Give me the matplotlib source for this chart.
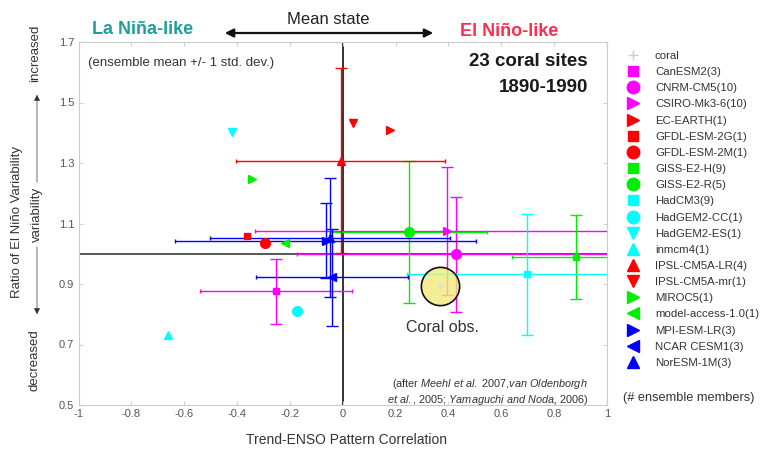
import matplotlib
matplotlib.use('Agg')
import matplotlib.pyplot as plt
from matplotlib.lines import Line2D

plt.rcParams['font.family'] = ['Liberation Sans', 'DejaVu Sans']
plt.rcParams['mathtext.fontset'] = 'custom'
plt.rcParams['mathtext.rm'] = 'Liberation Sans'
plt.rcParams['mathtext.it'] = 'Liberation Sans:italic'
plt.rcParams['axes.unicode_minus'] = False

# ---------------- data ----------------
models = ['CanESM2', 'CNRM-CM5', 'CSIRO-Mk3-6', 'EC-EARTH', 'GFDL-ESM-2G', 'GFDL-ESM-2M',
          'GISS-E2-H', 'GISS-E2-R', 'HadCM3', 'HadGEM2-CC', 'HadGEM2-ES', 'inmcm4',
          'IPSL-CM5A-LR', 'IPSL-CM5A-mr', 'MIROC5', 'model-access-1.0', 'MPI-ESM-LR',
          'NCAR CESM1', 'NorESM-1M']
members = [3, 10, 10, 1, 1, 1, 9, 5, 9, 1, 1, 1, 4, 1, 1, 1, 3, 3, 3]
x_mean = [-0.252, 0.43, 0.395, 0.18, -0.361, -0.295, 0.883, 0.25, 0.696, -0.172, -0.42, -0.662,
          -0.008, 0.039, -0.342, -0.22, -0.065, -0.04, -0.05]
y_mean = [0.876, 0.998, 1.075, 1.409, 1.059, 1.037, 0.989, 1.073, 0.932, 0.812, 1.403, 0.731,
          1.308, 1.431, 1.247, 1.035, 1.043, 0.922, 1.053]
x_std = [0.287, 0.603, 0.728, 0, 0, 0, 0.242, 0.297, 0.452, 0, 0, 0,
         0.395, 0, 0, 0, 0.568, 0.287, 0.454]
y_std = [0.108, 0.189, 0.211, 0, 0, 0, 0.139, 0.235, 0.2, 0, 0, 0,
         0.305, 0, 0, 0, 0.124, 0.161, 0.197]
colors = ['#ff00ff', '#ff00ff', '#ff00ff', '#ff0000', '#ff0000', '#ff0000',
          '#00ee00', '#00ee00', '#00ffff', '#00ffff', '#00ffff', '#00ffff',
          '#ff0000', '#ff0000', '#00ee00', '#00ee00', '#0000ff', '#0000ff', '#0000ff']
markers = ['s', 'o', '>', '>', 's', 'o', 's', 'o', 's', 'o', 'v', '^',
           '^', 'v', '>', '<', '>', '<', '^']
coral_x = [0.367]
coral_y = [0.893]
x_ticks = [-1, -0.8, -0.6, -0.4, -0.2, 0, 0.2, 0.4, 0.6, 0.8, 1]
x_ticklabels = ['-1', '-0.8', '-0.6', '-0.4', '-0.2', '0', '0.2', '0.4', '0.6', '0.8', '1']
y_ticks = [0.5, 0.7, 0.9, 1.1, 1.3, 1.5, 1.7]
y_ticklabels = ['0.5', '0.7', '0.9', '1.1', '1.3', '1.5', '1.7']

# ---------------- layout ----------------
W, H = 760, 449
fig = plt.figure(figsize=(W / 100, H / 100), dpi=100)


def fx(px):
    return px / W


def fy(py):
    return 1 - py / H


ax = fig.add_axes([fx(78.5), fy(405), fx(607) - fx(78.5), fy(42) - fy(405)])
ax.set_xlim(-1, 1)
ax.set_ylim(0.5, 1.7)
ax.set_xticks(x_ticks)
ax.set_xticklabels(x_ticklabels)
ax.set_yticks(y_ticks)
ax.set_yticklabels(y_ticklabels)
ax.tick_params(direction='in', length=3, color='#d0d0d0', labelcolor='#555555',
               labelsize=8, top=True, right=True, pad=3)
for s in ax.spines.values():
    s.set_color('#cccccc')
    s.set_linewidth(0.8)

ax.axhline(1.0, color='#555555', lw=1.4, zorder=1)
ax.axvline(0.0, color='#333333', lw=1.4, zorder=1)


def msize(m):
    return {'s': 5, 'o': 7}.get(m, 6)


for i in range(len(models)):
    c = colors[i]
    if y_std[i] > 0:
        ax.errorbar(x_mean[i], y_mean[i], yerr=y_std[i], fmt='none', ecolor=c,
                    elinewidth=1.0, capsize=4.5, capthick=1.0, zorder=3)
        ax.errorbar(x_mean[i], y_mean[i], xerr=x_std[i], fmt='none', ecolor=c,
                    elinewidth=1.0, capsize=1.5, capthick=1.0, zorder=3)
for i in range(len(models)):
    ax.plot(x_mean[i], y_mean[i], ls='none', marker=markers[i], color=colors[i],
            ms=msize(markers[i]), mec=colors[i], zorder=5)

ax.scatter(coral_x, coral_y, s=760, facecolors=[(0.95, 0.917, 0.485, 0.8)],
           edgecolors='#111111', linewidths=1.2, zorder=6)
ax.plot(coral_x, coral_y, ls='none', marker='+', color='#dddddd', ms=5, zorder=7)

# texts inside axes
fig.text(fx(88), fy(63), '(ensemble mean +/- 1 std. dev.)', fontsize=9.5,
         color='#333333', ha='left', va='center')
fig.text(fx(588), fy(62), '23 coral sites', fontsize=13.5, fontweight='bold',
         color='#1a1a1a', ha='right', va='center')
fig.text(fx(588), fy(87), '1890-1990', fontsize=13.5, fontweight='bold',
         color='#1a1a1a', ha='right', va='center')
fig.text(fx(443), fy(327), 'Coral obs.', fontsize=11.5, color='#333333',
         ha='center', va='center')
fig.text(fx(588), fy(384), r'(after $\mathit{Meehl\ et\ al.}$ 2007,$\mathit{van\ Oldenborgh}$',
         fontsize=7.8, color='#333333', ha='right', va='center')
fig.text(fx(588), fy(400), r'$\mathit{et\ al.}$, 2005; $\mathit{Yamaguchi\ and\ Noda}$, 2006)',
         fontsize=7.8, color='#333333', ha='right', va='center')

# top annotations
fig.text(fx(92), fy(29), 'La Niña-like', fontsize=13, fontweight='bold',
         color='#1f9e9a', ha='left', va='center')
fig.text(fx(558), fy(31), 'El Niño-like', fontsize=13, fontweight='bold',
         color='#ff2d4d', ha='right', va='center')
fig.text(fx(328), fy(20), 'Mean state', fontsize=12, color='#222222',
         ha='center', va='center')
fig.add_artist(matplotlib.patches.FancyArrowPatch(
    (fx(222), fy(33)), (fx(436), fy(33)), transform=fig.transFigure,
    arrowstyle='<|-|>,head_length=5,head_width=2.5', color='#111111', lw=1.6))

# axis labels
fig.text(fx(346), fy(440), 'Trend-ENSO Pattern Correlation', fontsize=10,
         color='#333333', ha='center', va='center')
fig.text(fx(17), fy(222), 'Ratio of El Niño Variability', fontsize=9.5,
         color='#333333', ha='center', va='center', rotation=90)
fig.text(fx(37), fy(214), 'variability', fontsize=9.5, color='#333333',
         ha='center', va='center', rotation=90)
fig.text(fx(35), fy(53), 'increased', fontsize=9.5, color='#333333',
         ha='center', va='center', rotation=90)
fig.text(fx(35), fy(360), 'decreased', fontsize=9.5, color='#333333',
         ha='center', va='center', rotation=90)
fig.add_artist(matplotlib.patches.FancyArrowPatch(
    (fx(37), fy(185)), (fx(37), fy(92)), transform=fig.transFigure,
    arrowstyle='-|>,head_length=3.5,head_width=1.8', color='#333333', lw=0.5))
fig.add_artist(matplotlib.patches.FancyArrowPatch(
    (fx(37), fy(244)), (fx(37), fy(317)), transform=fig.transFigure,
    arrowstyle='-|>,head_length=3.5,head_width=1.8', color='#333333', lw=0.5))

# legend
handles = [Line2D([], [], ls='none', marker='+', color='#cccccc', ms=7)]
labels = ['coral']
for i in range(len(models)):
    handles.append(Line2D([], [], ls='none', marker=markers[i], color=colors[i],
                          ms={'s': 6.5, 'o': 9}.get(markers[i], 8)))
    labels.append(f'{models[i]}({members[i]})')
leg = fig.legend(handles, labels, loc='upper left', bbox_to_anchor=(fx(624), fy(51)),
                 frameon=False, fontsize=8.2, labelspacing=0.54, handlelength=1.6,
                 handletextpad=1.12, borderpad=0, borderaxespad=0)
for t in leg.get_texts():
    t.set_color('#333333')
fig.text(fx(623), fy(398), '(# ensemble members)', fontsize=9.2, color='#333333',
         ha='left', va='center')

fig.savefig('out.png', dpi=100)
